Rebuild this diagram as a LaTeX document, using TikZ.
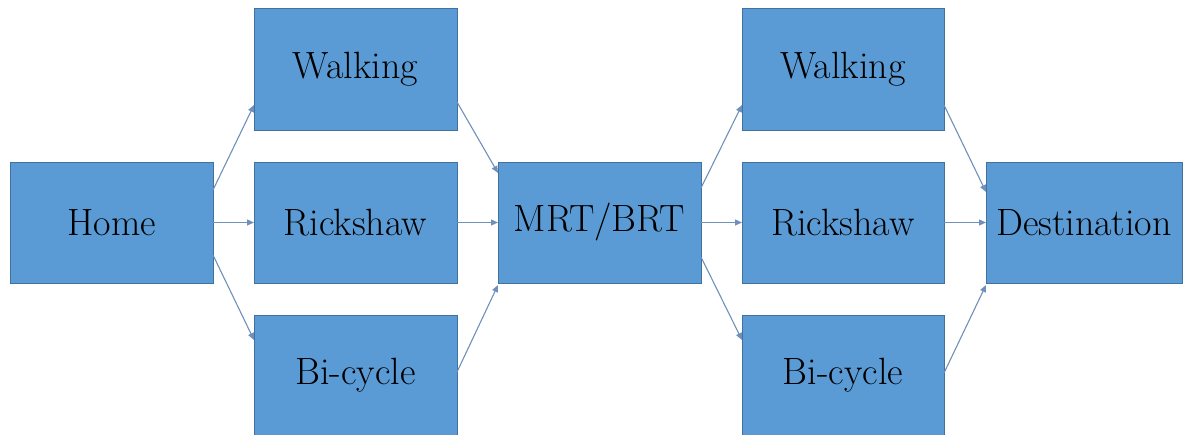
\documentclass[tikz,border=0pt]{standalone}
\usetikzlibrary{arrows.meta,calc}
\definecolor{boxfill}{HTML}{5B9BD5}
\definecolor{boxline}{HTML}{41719C}
\definecolor{arrowcol}{HTML}{6E90BA}
\tikzset{
  stagebox/.style={draw=boxline, line width=0.9pt, fill=boxfill, rectangle, anchor=north west,
    minimum width=203pt, minimum height=121pt, inner sep=0pt, outer sep=0pt,
    font=\fontsize{38}{42}\selectfont, text=black},
  flow/.style={draw=arrowcol, line width=1.1pt, -{Triangle[length=7pt,width=6pt]}}
}
\begin{document}
\begin{tikzpicture}[x=1pt,y=-1pt]
\useasboundingbox (0,0) rectangle (1184,435);
\node[stagebox] (home) at (10,162) {Home};
\node[stagebox, minimum height=122pt] (walk1) at (254,8) {Walking};
\node[stagebox] (rick1) at (254,162) {Rickshaw};
\node[stagebox] (bike1) at (254,315) {Bi-cycle};
\node[stagebox] (mrt) at (498,162) {MRT/BRT};
\node[stagebox, minimum width=202pt, minimum height=122pt] (walk2) at (742,8) {Walking};
\node[stagebox, minimum width=202pt] (rick2) at (742,162) {Rickshaw};
\node[stagebox, minimum width=202pt] (bike2) at (742,315) {Bi-cycle};
\node[stagebox, minimum width=196pt] (dest) at (986,162) {Destination};

\draw[flow] ($(home.north east)+(0,28)$) -- ($(walk1.south west)+(0,-25)$);
\draw[flow] (home.east) -- (rick1.west);
\draw[flow] ($(home.south east)+(0,-28)$) -- ($(bike1.north west)+(0,25)$);

\draw[flow] ($(walk1.south east)+(0,-28)$) -- ($(mrt.north west)+(0,11)$);
\draw[flow] (rick1.east) -- (mrt.west);
\draw[flow] ($(bike1.north east)+(0,57)$) -- ($(mrt.south west)+(0,2)$);

\draw[flow] ($(mrt.north east)+(0,26)$) -- ($(walk2.south west)+(0,-25)$);
\draw[flow] (mrt.east) -- (rick2.west);
\draw[flow] ($(mrt.south east)+(0,-26)$) -- ($(bike2.north west)+(0,25)$);

\draw[flow] ($(walk2.south east)+(0,-25)$) -- ($(dest.north west)+(0,30)$);
\draw[flow] (rick2.east) -- (dest.west);
\draw[flow] ($(bike2.north east)+(0,58)$) -- ($(dest.south west)+(0,2)$);
\end{tikzpicture}
\end{document}
